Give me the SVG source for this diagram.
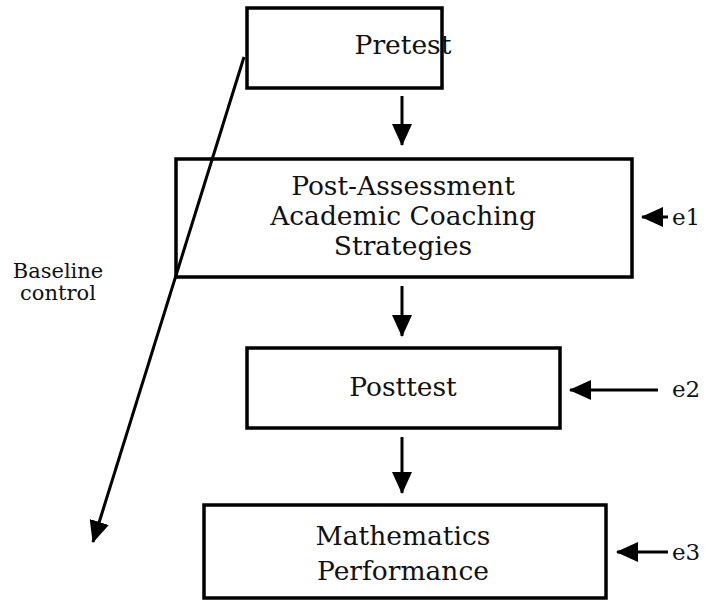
<svg xmlns="http://www.w3.org/2000/svg" width="722" height="602" viewBox="0 0 722 602">
<style>
.box{fill:#fff;stroke:#000;stroke-width:3.5}
.t{font-family:"DejaVu Serif",serif;font-size:26.5px;fill:#111;text-anchor:middle}
.s{font-family:"DejaVu Serif",serif;font-size:21px;fill:#111;text-anchor:middle}
.e{font-family:"DejaVu Serif",serif;font-size:23px;fill:#111}
.c{stroke:#000;stroke-width:3;fill:none;marker-end:url(#ah)}
</style>
<defs>
<marker id="ah" viewBox="0 0 22 20" refX="21" refY="10" markerWidth="22" markerHeight="20" orient="auto" markerUnits="userSpaceOnUse">
<path d="M0,0 L22,10 L0,20 z" fill="#000"/>
</marker>
</defs>
<g id="pretest"><rect class="box" x="247" y="8" width="195" height="80"/><text class="t" x="403" y="54">Pretest</text></g>
<g id="coaching"><rect class="box" x="176" y="159" width="456" height="118"/>
<text class="t" x="403" y="195">Post-Assessment</text>
<text class="t" x="403" y="225">Academic Coaching</text>
<text class="t" x="403" y="255">Strategies</text></g>
<g id="posttest"><rect class="box" x="247" y="348" width="313" height="80"/><text class="t" x="403" y="396">Posttest</text></g>
<g id="math"><rect class="box" x="204" y="505" width="402" height="93"/>
<text class="t" x="403" y="545">Mathematics</text>
<text class="t" x="403" y="580">Performance</text></g>
<g id="labels">
<text class="s" x="58" y="278">Baseline</text>
<text class="s" x="58" y="300">control</text>
<text class="e" x="672" y="225">e1</text>
<text class="e" x="672" y="397">e2</text>
<text class="e" x="672" y="560">e3</text>
</g>
<g id="connectors">
<line class="c" x1="402" y1="96" x2="402" y2="145"/>
<line class="c" x1="402" y1="286" x2="402" y2="336"/>
<line class="c" x1="402" y1="437" x2="402" y2="493"/>
<line class="c" x1="244" y1="57" x2="93" y2="542"/>
<line class="c" x1="668" y1="217" x2="642" y2="217"/>
<line class="c" x1="658" y1="390" x2="570" y2="390"/>
<line class="c" x1="668" y1="552" x2="617" y2="552"/>
</g>
</svg>
